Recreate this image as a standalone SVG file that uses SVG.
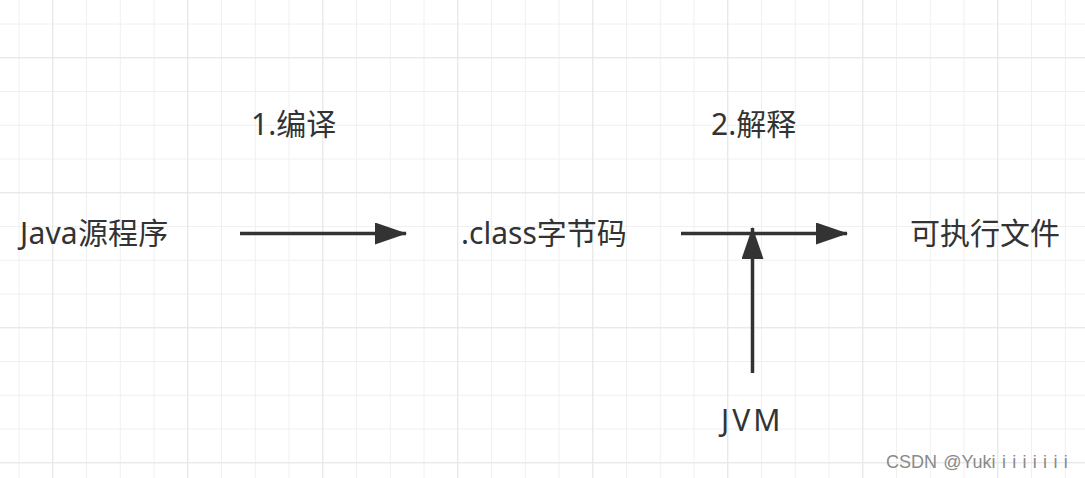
<svg xmlns="http://www.w3.org/2000/svg" width="1085" height="478" viewBox="0 0 1085 478">
<style>
.minor{stroke:#f0f0f0;stroke-width:1;fill:none}
.major{stroke:#e6e6e6;stroke-width:1;fill:none}
.t{font-family:"Noto Sans","Noto Sans CJK SC",sans-serif;font-size:30px;fill:#333333}
.edge{stroke:#333333;stroke-width:3.5;fill:none}
.wm{font-family:"Liberation Sans","Noto Sans CJK SC",sans-serif;font-size:18px;fill:#8a8a8a}
</style>
<defs>
<marker id="arr" viewBox="0 0 32 22" refX="31" refY="11" markerUnits="userSpaceOnUse" markerWidth="32" markerHeight="22" orient="auto">
<path d="M0,0 L32,11 L0,22 Z" fill="#333333"/>
</marker>
</defs>
<rect width="1085" height="478" fill="#ffffff"/>
<g id="grid">
<path class="minor" d="M19,0V478M52.75,0V478M86.5,0V478M120.25,0V478M154,0V478M187.75,0V478M221.5,0V478M255.25,0V478M289,0V478M322.75,0V478M356.5,0V478M390.25,0V478M424,0V478M457.75,0V478M491.5,0V478M525.25,0V478M559,0V478M592.75,0V478M626.5,0V478M660.25,0V478M694,0V478M727.75,0V478M761.5,0V478M795.25,0V478M829,0V478M862.75,0V478M896.5,0V478M930.25,0V478M964,0V478M997.75,0V478M1031.5,0V478M1065.25,0V478M0,24H1085M0,57.75H1085M0,91.5H1085M0,125.25H1085M0,159H1085M0,192.75H1085M0,226.5H1085M0,260.25H1085M0,294H1085M0,327.75H1085M0,361.5H1085M0,395.25H1085M0,429H1085M0,462.75H1085"/>
<path class="major" d="M52.75,0V478M187.75,0V478M322.75,0V478M457.75,0V478M592.75,0V478M727.75,0V478M862.75,0V478M997.75,0V478M0,57.75H1085M0,192.75H1085M0,327.75H1085M0,462.75H1085"/>
</g>
<g id="connectors">
<path class="edge" d="M240,233.5H406" marker-end="url(#arr)"/>
<path class="edge" d="M681,233.5H847" marker-end="url(#arr)"/>
<path class="edge" d="M752.5,373V228" marker-end="url(#arr)"/>
</g>
<g id="n-java"><text class="t" x="20" y="244" letter-spacing="0.2">Java源程序</text></g>
<g id="n-compile"><text class="t" x="251" y="135">1.编译</text></g>
<g id="n-class"><text class="t" x="461" y="244">.class字节码</text></g>
<g id="n-interpret"><text class="t" x="711" y="135">2.解释</text></g>
<g id="n-exe"><text class="t" x="910" y="244">可执行文件</text></g>
<g id="n-jvm"><text class="t" x="721" y="431" letter-spacing="3">JVM</text></g>
<g id="watermark"><text class="wm" x="886" y="468" word-spacing="1.3">CSDN @Yuki i i i i i i i</text></g>
</svg>
